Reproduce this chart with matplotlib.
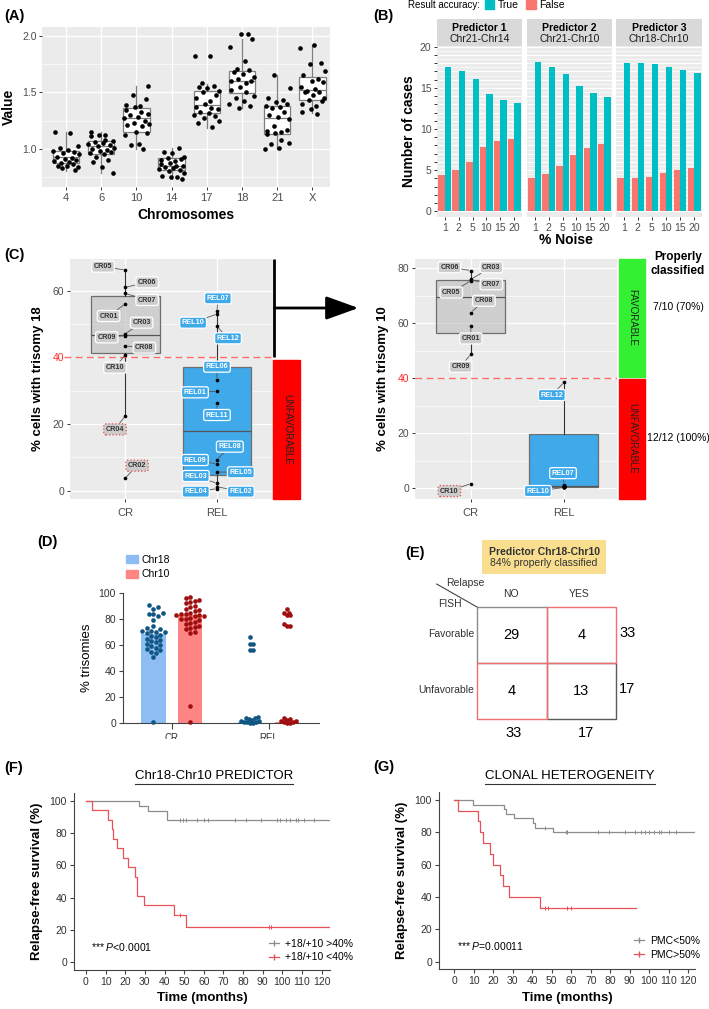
#!/usr/bin/env python3
"""
Figura multi-pannello: trisomie per cromosoma, predittori, classificazione e sopravvivenza.
Salva out.png (709x1009 px).
"""

import numpy as np
import matplotlib
matplotlib.use('Agg')
import matplotlib.pyplot as plt
from matplotlib.patches import Rectangle, Patch
from matplotlib.lines import Line2D

plt.rcParams['font.family'] = ['Liberation Sans', 'DejaVu Sans']
plt.rcParams['mathtext.fontset'] = 'custom'
plt.rcParams['mathtext.it'] = 'Liberation Sans:italic'
plt.rcParams['mathtext.rm'] = 'Liberation Sans'

W, H = 709, 1009

# ---------------------------------------------------------------- dati
# (A) valori per cromosoma
CHROMS = ['4', '6', '10', '14', '17', '18', '21', 'X']
A_VALUES = [
    [1.15, 1.14, 1.02, 1.01, 0.99, 0.98, 0.97, 0.96, 0.95, 0.93, 0.92,
     0.91, 0.90, 0.89, 0.88, 0.87, 0.86, 0.85, 0.85, 0.84, 0.83, 0.81],
    [1.15, 1.12, 1.12, 1.11, 1.08, 1.07, 1.06, 1.05, 1.04, 1.03, 1.02,
     1.01, 1.00, 0.99, 0.98, 0.97, 0.96, 0.95, 0.93, 0.90, 0.88, 0.84, 0.78],
    [1.56, 1.48, 1.44, 1.39, 1.38, 1.37, 1.34, 1.33, 1.31, 1.30, 1.28,
     1.27, 1.25, 1.23, 1.22, 1.21, 1.20, 1.15, 1.14, 1.12, 1.04, 1.03, 1.00],
    [1.01, 0.97, 0.96, 0.93, 0.92, 0.91, 0.90, 0.89, 0.87, 0.86, 0.85,
     0.85, 0.84, 0.83, 0.82, 0.81, 0.80, 0.78, 0.76, 0.75, 0.75, 0.73],
    [1.82, 1.82, 1.58, 1.56, 1.55, 1.54, 1.51, 1.50, 1.48, 1.45, 1.42,
     1.40, 1.37, 1.36, 1.35, 1.33, 1.32, 1.30, 1.29, 1.27, 1.25, 1.23, 1.19],
    [2.02, 2.02, 1.97, 1.90, 1.78, 1.71, 1.70, 1.68, 1.66, 1.64, 1.62,
     1.60, 1.60, 1.58, 1.55, 1.52, 1.50, 1.47, 1.45, 1.42, 1.40, 1.38, 1.36],
    [1.65, 1.54, 1.45, 1.43, 1.41, 1.40, 1.38, 1.37, 1.36, 1.33, 1.30, 1.28,
     1.26, 1.20, 1.17, 1.16, 1.15, 1.14, 1.13, 1.08, 1.05, 1.04, 1.01, 1.00],
    [1.92, 1.89, 1.76, 1.75, 1.69, 1.65, 1.62, 1.60, 1.59, 1.55, 1.53,
     1.51, 1.50, 1.50, 1.48, 1.45, 1.43, 1.42, 1.40, 1.38, 1.35, 1.33, 1.31],
]
A_Q1 = [0.87, 0.95, 1.15, 0.81, 1.32, 1.49, 1.13, 1.43]
A_MED = [0.93, 1.02, 1.27, 0.85, 1.39, 1.60, 1.27, 1.52]
A_Q3 = [0.98, 1.07, 1.36, 0.92, 1.51, 1.69, 1.38, 1.64]
A_LO = [0.80, 0.78, 1.00, 0.73, 1.18, 1.36, 1.00, 1.32]
A_HI = [1.15, 1.15, 1.56, 1.01, 1.57, 1.97, 1.65, 1.92]

# (B) rumore
NOISE = ['1', '2', '5', '10', '15', '20']
PRED_NAMES = ['Predictor 1', 'Predictor 2', 'Predictor 3']
PRED_PAIRS = ['Chr21-Chr14', 'Chr21-Chr10', 'Chr18-Chr10']
B_TRUE = [[17.6, 17.1, 16.1, 14.3, 13.5, 13.2],
          [18.1, 17.6, 16.7, 15.2, 14.4, 13.9],
          [18.0, 18.0, 17.9, 17.5, 17.2, 16.8]]
B_FALSE = [[4.4, 5.0, 6.0, 7.8, 8.6, 8.8],
           [4.0, 4.5, 5.5, 6.9, 7.7, 8.2],
           [4.0, 4.0, 4.2, 4.6, 5.0, 5.2]]

# (C) % cellule con trisomia 18 / 10
CR_IDS = ['CR01', 'CR02', 'CR03', 'CR04', 'CR05', 'CR06', 'CR07', 'CR08', 'CR09', 'CR10']
CR_T18 = [56.0, 3.7, 47.0, 22.4, 66.2, 61.0, 59.2, 43.4, 46.5, 40.7]
REL_IDS = ['REL01', 'REL02', 'REL03', 'REL04', 'REL05', 'REL06',
           'REL07', 'REL08', 'REL09', 'REL10', 'REL11', 'REL12']
REL_T18 = [29.8, 1.2, 2.2, 0.6, 5.6, 33.2, 53.8, 9.3, 8.0, 53.0, 26.4, 49.3]
C18_Q1 = [41.4, 4.7]
C18_MED = [46.7, 17.9]
C18_Q3 = [58.4, 37.2]
C18_LO = [22.4, 0.6]
C18_HI = [66.2, 53.8]

CR10_IDS = ['CR01', 'CR03', 'CR05', 'CR06', 'CR07', 'CR08', 'CR09', 'CR10']
CR_T10 = [59.2, 76.0, 75.5, 79.2, 75.8, 63.9, 48.8, 1.7]
REL_T10 = [0.5, 0.4, 0.6, 0.5, 0.7, 0.8, 1.3, 0.9, 0.6, 0.3, 0.5, 38.5]
C10_Q1 = [56.6, 0.6]
C10_MED = [69.7, 0.9]
C10_Q3 = [75.9, 19.8]
C10_LO = [48.8, 0.3]
C10_HI = [79.2, 38.5]
MISCLASSIFIED = {'CR02', 'CR04'}
MISCLASSIFIED_10 = {'CR10'}

# (D) % trisomie
D_GROUPS = ['CR', 'REL']
D_CR18 = [91, 89, 88, 85, 84, 84, 82, 79, 75, 73, 72, 71, 71, 70, 70, 69, 68,
          67, 66, 65, 64, 63, 62, 61, 60, 59, 58, 57, 56, 55, 54, 50.5, 0.5]
D_CR10 = [97, 96, 95, 94, 93, 92, 90, 89, 88, 87, 86, 85, 84, 84, 83, 83, 82,
          82, 81, 80, 80, 79, 78, 77, 76, 75, 74, 73, 72, 70, 69, 13.3, 1.0]
D_REL18 = [66, 61, 61, 56.5, 56.5, 4.5, 4.0, 3.5, 3.0, 2.4, 1.8, 1.3, 0.9,
           0.6, 0.4, 0.2, 0.1]
D_REL10 = [88, 85, 84.5, 83, 83, 76, 75, 75, 4.0, 3.2, 2.5, 1.8, 1.3, 0.9,
           0.6, 0.3, 0.1]
D_BAR18 = [68.7, 1.0]
D_BAR10 = [83.0, 1.0]

# (E) tabella di contingenza
E_ROWS = ['Favorable', 'Unfavorable']
E_COLS = ['NO', 'YES']
E_COUNTS = [[29, 4], [4, 13]]

# (F) Kaplan-Meier predittore
F_HI_T = [0, 27.2, 31.4, 41.5]
F_HI_S = [100, 97.0, 93.9, 87.9]
F_HI_CENS = [47.9, 49.2, 50.9, 56.3, 60.0, 62.3, 75.8, 81.4, 89.4, 97.4,
             98.8, 101.8, 103.9, 106.9, 107.8, 111.0, 116.1]
F_HI_END = 124.2
F_LO_T = [0, 2.9, 11.0, 13.1, 13.9, 15.6, 19.0, 21.6, 24.9, 25.9, 29.5, 44.8, 50.9]
F_LO_S = [100, 94.1, 88.2, 82.4, 76.5, 70.6, 64.7, 58.8, 52.9, 41.2, 35.3, 29.4, 22.1]
F_LO_CENS = [47.9, 93.3, 94.5]
F_LO_END = 124.2

# (G) Kaplan-Meier eterogeneità clonale
G_HI_T = [0, 9.9, 25.6, 26.8, 30.7, 40.6, 41.5, 50.9]
G_HI_S = [100, 97.1, 94.3, 91.4, 88.6, 85.7, 82.9, 80.0]
G_HI_CENS = [46.6, 57.4, 57.9, 73.6, 79.2, 87.3, 92.7, 95.5, 97.9, 99.6,
             102.3, 105.2, 106.1, 110.3, 113.7]
G_HI_END = 123.7
G_LO_T = [0, 2.0, 12.5, 13.3, 15.0, 18.4, 20.1, 23.5, 24.9, 28.3, 44.0]
G_LO_S = [100, 93.3, 86.7, 80.0, 73.3, 66.7, 60.0, 53.3, 46.7, 40.0, 33.3]
G_LO_CENS = [46.6, 48.3, 57.9, 59.9]
G_LO_END = 93.2

# ---------------------------------------------------------------- layout helpers
GG_BG = '#EBEBEB'
TICK_C = '#4D4D4D'
TEAL, SALMON = '#00BFC4', '#F8766D'
BLUE_BOX = '#3FA9EA'
KM_GRAY, KM_RED = '#8C8C8C', '#E8505A'

JITTER = [-0.30, 0.12, 0.33, -0.18, 0.05, -0.36, 0.24, -0.08, 0.36, -0.26,
          0.16, -0.02, 0.29, -0.33, 0.08, -0.14, 0.20, -0.22, 0.02, 0.34,
          -0.10, 0.27, -0.30, 0.10, -0.05]


def px_axes(fig, l, t, r, b):
    return fig.add_axes([l / W, 1 - b / H, (r - l) / W, (b - t) / H])


def px_text(fig, x, y, s, **kw):
    kw.setdefault('va', 'center')
    return fig.text(x / W, 1 - y / H, s, **kw)


def gg_style(ax):
    ax.set_facecolor(GG_BG)
    for s in ax.spines.values():
        s.set_visible(False)
    ax.tick_params(which='major', colors='#333333', labelcolor=TICK_C,
                   length=2.5, width=0.7, labelsize=7.5, pad=1.5)
    ax.tick_params(which='minor', length=0)
    ax.set_axisbelow(True)
    ax.grid(which='major', color='white', lw=0.9)
    ax.grid(which='minor', color='white', lw=0.45)


def plain_style(ax):
    for s in ['top', 'right']:
        ax.spines[s].set_visible(False)
    for s in ['left', 'bottom']:
        ax.spines[s].set_color('#444444')
        ax.spines[s].set_linewidth(0.8)
    ax.tick_params(colors='#444444', labelcolor='#333333', length=3,
                   width=0.8, labelsize=7.5, pad=2)


def swarm(values, x0, px_per_x, px_per_y, d=4.6):
    vals = np.asarray(values, float)
    ys = vals * px_per_y
    xs = np.zeros(len(vals))
    done = []
    for i in np.argsort(vals):
        for k in range(60):
            off = ((k + 1) // 2) * 0.5 * d * (1 if k % 2 else -1)
            if all((off - xs[j]) ** 2 + (ys[i] - ys[j]) ** 2 >= d * d for j in done):
                xs[i] = off
                break
        done.append(i)
    return x0 + xs / px_per_x


def box_stats(q1, med, q3, lo, hi):
    return [dict(q1=a, med=b, q3=c, whislo=d, whishi=e)
            for a, b, c, d, e in zip(q1, med, q3, lo, hi)]


def label_points(ax, ids, xs, ys, pos, red_set, fc, tc):
    for pid, x, y in zip(ids, xs, ys):
        if pid not in pos:
            continue
        red = pid in red_set
        ax.annotate(pid, xy=(x, y), xytext=pos[pid], fontsize=5.2,
                    fontweight='bold', color=tc, ha='center', va='center',
                    zorder=6, annotation_clip=False,
                    bbox=dict(boxstyle='round,pad=0.28', fc=fc,
                              ec='#E05555' if red else 'white',
                              ls=':' if red else '-', lw=0.9),
                    arrowprops=dict(arrowstyle='-', color='#555555', lw=0.6,
                                    shrinkA=0, shrinkB=1.5))


def km_panel(ax, curves):
    for t, s, end, cens, col in curves:
        ax.step(list(t) + [end], list(s) + [s[-1]], where='post',
                color=col, lw=0.9)
        idx = np.searchsorted(t, cens, side='right') - 1
        ax.plot(cens, np.asarray(s)[idx], ls='none', marker='|', ms=3.5,
                mew=0.7, color=col)


fig = plt.figure(figsize=(W / 100, H / 100), dpi=100)

# ---------------------------------------------------------------- (A)
axA = px_axes(fig, 42, 27, 330, 187)
gg_style(axA)
pos = np.arange(1, len(CHROMS) + 1)
axA.bxp(box_stats(A_Q1, A_MED, A_Q3, A_LO, A_HI), positions=pos, widths=0.75,
        showfliers=False, showcaps=False, patch_artist=True,
        boxprops=dict(facecolor='white', edgecolor='#7F7F7F', lw=0.9),
        medianprops=dict(color='#7F7F7F', lw=0.9),
        whiskerprops=dict(color='#7F7F7F', lw=0.9))
for i, vals in enumerate(A_VALUES):
    jit = np.roll(JITTER, 3 * i)[:len(vals)]
    axA.scatter(pos[i] + jit, vals, s=11, color='black', lw=0, zorder=4)
axA.set_xlim(0.32, 8.5)
axA.set_ylim(0.66, 2.08)
axA.set_xticks(pos)
axA.set_xticklabels(CHROMS)
axA.set_yticks([1.0, 1.5, 2.0])
axA.set_yticks([0.75, 1.25, 1.75], minor=True)
axA.tick_params(axis='x', labelsize=8)
axA.set_xlabel('Chromosomes', fontsize=10, fontweight='bold', labelpad=4)
axA.set_ylabel('Value', fontsize=10, fontweight='bold', labelpad=4)

# ---------------------------------------------------------------- (B)
facets = [(437, 522), (527, 612), (616, 702)]
xb = np.arange(1, len(NOISE) + 1)
for k, (l, r) in enumerate(facets):
    ax = px_axes(fig, l, 46, r, 217)
    gg_style(ax)
    ax.bar(xb - 0.225, B_FALSE[k], width=0.45, color=SALMON, zorder=2)
    ax.bar(xb + 0.225, B_TRUE[k], width=0.45, color=TEAL, zorder=2)
    ax.set_xlim(0.45, 6.55)
    ax.set_ylim(-0.7, 20.1)
    ax.set_xticks(xb)
    ax.set_xticklabels(NOISE)
    ax.tick_params(axis='x', labelsize=7.5)
    ax.set_yticks(np.arange(0, 21))
    ax.set_yticklabels([str(v) if v % 5 == 0 else '' for v in range(21)])
    ax.set_yticks(np.arange(0.5, 20.5, 1.0), minor=True)
    ax.grid(axis='x', visible=False)
    if k > 0:
        ax.tick_params(axis='y', length=0, labelleft=False)
    else:
        ax.set_ylabel('Number of cases', fontsize=10, fontweight='bold',
                      labelpad=3)
    strip = px_axes(fig, l, 19, r, 46)
    strip.set_facecolor('#D9D9D9')
    strip.set_xticks([])
    strip.set_yticks([])
    for s in strip.spines.values():
        s.set_visible(False)
    strip.text(0.5, 0.68, PRED_NAMES[k], transform=strip.transAxes,
               ha='center', va='center', fontsize=7.5, fontweight='bold')
    strip.text(0.5, 0.27, PRED_PAIRS[k], transform=strip.transAxes,
               ha='center', va='center', fontsize=7.5, color='#1A1A1A')
px_text(fig, 566, 240, '% Noise', ha='center', fontsize=10, fontweight='bold')
px_text(fig, 408, 5, 'Result accuracy:', fontsize=7)
fig.legend(handles=[Patch(color=TEAL), Patch(color=SALMON)],
           labels=['True', 'False'], ncol=2, loc='center left',
           bbox_to_anchor=(485 / W, 1 - 5 / H), frameon=False, fontsize=7.5,
           handlelength=0.9, handleheight=0.9, handletextpad=0.35,
           columnspacing=0.7, borderpad=0, borderaxespad=0)

# ---------------------------------------------------------------- (C) trisomia 18
LBL_C18 = {'CR05': (0.76, 67.2), 'CR06': (1.24, 62.5), 'CR07': (1.24, 57.2),
           'CR01': (0.82, 52.4), 'CR03': (1.18, 50.4), 'CR09': (0.80, 46.0),
           'CR08': (1.21, 42.9), 'CR10': (0.89, 36.9), 'CR04': (0.89, 18.4),
           'CR02': (1.13, 7.5),
           'REL07': (2.01, 57.7), 'REL10': (1.74, 50.4), 'REL12': (2.12, 45.7),
           'REL06': (2.0, 37.2), 'REL01': (1.76, 29.5), 'REL11': (2.0, 22.7),
           'REL08': (2.14, 13.2), 'REL09': (1.76, 9.2), 'REL05': (2.26, 5.5),
           'REL03': (1.77, 4.4), 'REL04': (1.77, -0.3), 'REL02': (2.26, -0.3)}
LBL_C10 = {'CR06': (0.77, 80.4), 'CR03': (1.22, 80.4), 'CR07': (1.22, 74.2),
           'CR05': (0.79, 71.2), 'CR08': (1.14, 68.2), 'CR01': (1.0, 54.5),
           'CR09': (0.89, 44.2), 'CR10': (0.77, -1.0),
           'REL12': (1.87, 33.9), 'REL07': (1.99, 5.5), 'REL10': (1.72, -1.0)}


def trisomy_panel(ax, stats, cr_ids, cr_vals, rel_vals, labels, red_set,
                  ylim, xlim, width):
    gg_style(ax)
    bp = ax.bxp(stats, positions=[1, 2], widths=width, showfliers=False,
                showcaps=False, patch_artist=True,
                boxprops=dict(edgecolor='#6E6E6E', lw=0.9),
                medianprops=dict(color='#555555', lw=0.9),
                whiskerprops=dict(color='#333333', lw=0.8))
    bp['boxes'][0].set_facecolor((0.72, 0.72, 0.72, 0.55))
    bp['boxes'][1].set_facecolor(BLUE_BOX)
    ax.scatter(np.ones(len(cr_vals)), cr_vals, s=7, color='black', lw=0,
               zorder=4)
    ax.scatter(np.full(len(rel_vals), 2.0), rel_vals, s=7, color='black',
               lw=0, zorder=4)
    label_points(ax, cr_ids, np.ones(len(cr_vals)), cr_vals, labels, red_set,
                 '#CCCCCC', '#333333')
    label_points(ax, REL_IDS, np.full(len(rel_vals), 2.0), rel_vals, labels,
                 set(), BLUE_BOX, 'white')
    ax.set_xlim(*xlim)
    ax.set_ylim(*ylim)
    ax.set_xticks([1, 2])
    ax.set_xticklabels(['CR', 'REL'], fontsize=8)
    ax.tick_params(axis='x', pad=4)
    ax.set_yticks(np.arange(0, ylim[1], 20))
    ax.set_yticks(np.arange(10, ylim[1], 20), minor=True)
    for t in ax.get_yticklabels():
        if t.get_text() == '40':
            t.set_color('#FF2A2A')


axC1 = px_axes(fig, 70, 259, 273, 499)
trisomy_panel(axC1, box_stats(C18_Q1, C18_MED, C18_Q3, C18_LO, C18_HI),
              CR_IDS, CR_T18, REL_T18, LBL_C18, MISCLASSIFIED,
              (-2.5, 69.5), (0.40, 2.61), 0.75)
axC1.plot([0.33, 2.61], [40, 40], ls=(0, (5, 3)), color='#FF6A6A', lw=1.0,
          clip_on=False, zorder=3)
axC1.add_patch(Rectangle((2.615, -2.5), 0.29, 41.7, color='#FF0000',
                         clip_on=False, zorder=1))
axC1.text(2.76, 18.5, 'UNFAVORABLE', rotation=-90, ha='center', va='center',
          fontsize=7, color='#222222')
axC1.plot([2.625, 2.625], [40, 69.5], color='black', lw=2, clip_on=False,
          solid_capstyle='butt')
axC1.annotate('', xy=(3.54, 54.8), xytext=(2.625, 54.8),
              annotation_clip=False,
              arrowprops=dict(arrowstyle='-|>,head_length=1.0,head_width=0.36',
                              color='black', lw=2, mutation_scale=20,
                              shrinkA=0, shrinkB=0))
axC1.set_ylabel('% cells with trisomy 18', fontsize=9.5, fontweight='bold',
                labelpad=6)

# ---------------------------------------------------------------- (C) trisomia 10
axC2 = px_axes(fig, 415, 259, 617, 499)
trisomy_panel(axC2, box_stats(C10_Q1, C10_MED, C10_Q3, C10_LO, C10_HI),
              CR10_IDS, CR_T10, REL_T10, LBL_C10, MISCLASSIFIED_10,
              (-3.9, 83.4), (0.40, 2.57), 0.74)
axC2.axhline(40, ls=(0, (5, 3)), color='#FF6A6A', lw=1.0, zorder=3)
axC2.add_patch(Rectangle((2.59, 40.6), 0.28, 42.8, color='#33F033',
                         clip_on=False, zorder=1))
axC2.add_patch(Rectangle((2.59, -3.9), 0.28, 43.8, color='#FF0000',
                         clip_on=False, zorder=1))
axC2.text(2.73, 62, 'FAVORABLE', rotation=-90, ha='center', va='center',
          fontsize=7, color='#222222')
axC2.text(2.73, 18, 'UNFAVORABLE', rotation=-90, ha='center', va='center',
          fontsize=7, color='#222222')
axC2.set_ylabel('% cells with trisomy 10', fontsize=9.5, fontweight='bold',
                labelpad=6)
px_text(fig, 678, 257, 'Properly', ha='center', fontsize=8.5,
        fontweight='bold')
px_text(fig, 678, 270.5, 'classified', ha='center', fontsize=8.5,
        fontweight='bold')
px_text(fig, 678, 307, '7/10 (70%)', ha='center', fontsize=7.5)
px_text(fig, 678, 438, '12/12 (100%)', ha='center', fontsize=7.5)

# ---------------------------------------------------------------- (D)
axD = px_axes(fig, 123, 593, 319, 723)
plain_style(axD)
xd = np.arange(len(D_GROUPS))
C18_BAR, C10_BAR = '#8DBDF3', '#FF8585'
C18_PT, C10_PT = '#0F5683', '#A00F0F'
axD.bar(xd - 0.19, D_BAR18, width=0.25, color=C18_BAR, zorder=1)
axD.bar(xd + 0.19, D_BAR10, width=0.25, color=C10_BAR, zorder=1)
pxx, pxy = 97.0, 1.3
for x0, vals, col, d in [(-0.19, D_CR18, C18_PT, 4.6),
                         (0.19, D_CR10, C10_PT, 4.6),
                         (0.81, D_REL18, C18_PT, 3.0),
                         (1.19, D_REL10, C10_PT, 3.0)]:
    axD.scatter(swarm(vals, x0, pxx, pxy, d), vals, s=11, color=col, lw=0,
                zorder=3, clip_on=False)
axD.set_xlim(-0.505, 1.52)
axD.set_ylim(0, 100)
axD.set_yticks(np.arange(0, 101, 20))
axD.set_xticks(xd)
axD.set_xticklabels(D_GROUPS)
axD.tick_params(axis='x', length=4, pad=3, labelsize=7)
axD.set_ylabel('% trisomies', fontsize=9.5, labelpad=4)
axD.legend(handles=[Patch(color=C18_BAR), Patch(color=C10_BAR)],
           labels=['Chr18', 'Chr10'], loc='center left',
           bbox_to_anchor=(-0.01, 1.2), frameon=False, fontsize=7.5,
           handlelength=1.1, handleheight=0.75, handletextpad=0.4,
           labelspacing=0.45, borderpad=0)
# il bordo inferiore del pannello originale taglia le etichette CR / REL
fig.add_artist(Rectangle((140 / W, 1 - 750 / H), 170 / W, 11.5 / H,
                         transform=fig.transFigure, fc='white', ec='none',
                         zorder=20))

# ---------------------------------------------------------------- (E)
axE = px_axes(fig, 477, 607, 616, 719)
axE.set_xlim(0, 2)
axE.set_ylim(2, 0)
axE.axis('off')
edge = [['#8C8C8C', '#F07070'], ['#F07070', '#5A5A5A']]
for order in (0, 1):
    for i in range(2):
        for j in range(2):
            red = edge[i][j] == '#F07070'
            if red != bool(order):
                continue
            axE.add_patch(Rectangle((j, i), 1, 1, fill=False, ec=edge[i][j],
                                    lw=1.0, clip_on=False))
counts = np.array(E_COUNTS)
for i in range(2):
    for j in range(2):
        axE.text(j + 0.5, i + 0.5, str(counts[i, j]), ha='center',
                 va='center', fontsize=10.5)
    axE.text(2.16, i + 0.47, str(counts[i].sum()), ha='center', va='center',
             fontsize=10.5, clip_on=False)
    axE.text(-0.04, i + 0.48, E_ROWS[i], ha='right', va='center',
             fontsize=7.5, color='#333333')
for j in range(2):
    axE.text([0.53, 1.57][j], 2.25, str(counts[:, j].sum()), ha='center',
             va='center', fontsize=10.5)
    axE.text([0.49, 1.47][j], -0.23, E_COLS[j], ha='center', va='center',
             fontsize=7.5, color='#333333')
axE.text(-0.17, -0.43, 'Relapse', ha='center', va='center', fontsize=7.5,
         color='#333333')
axE.text(-0.39, -0.05, 'FISH', ha='center', va='center', fontsize=7.5,
         color='#333333')
axE.plot([-0.58, 0], [-0.41, 0], color='#444444', lw=0.8, clip_on=False)
axE.add_patch(Rectangle((0.07, -1.2), 1.79, 0.61, fc='#F8DE8E', ec='none',
                        clip_on=False))
axE.text(0.965, -0.99, 'Predictor Chr18-Chr10', ha='center', va='center',
         fontsize=7.5, fontweight='bold', color='#333333')
axE.text(0.965, -0.78, '84% properly classified', ha='center', va='center',
         fontsize=7.5, color='#333333')

# ---------------------------------------------------------------- (F)
axF = px_axes(fig, 74, 793, 330, 970)
plain_style(axF)
km_panel(axF, [(F_HI_T, F_HI_S, F_HI_END, F_HI_CENS, KM_GRAY),
               (F_LO_T, F_LO_S, F_LO_END, F_LO_CENS, KM_RED)])
axF.set_xlim(-6.1, 124.3)
axF.set_ylim(-4.8, 104.8)
axF.set_xticks(np.arange(0, 121, 10))
axF.set_yticks(np.arange(0, 101, 20))
axF.spines['left'].set_bounds(-4.8, 104.8)
axF.set_xlabel('Time (months)', fontsize=9.5, fontweight='bold', labelpad=4)
axF.set_ylabel('Relapse-free survival (%)', fontsize=9.5, fontweight='bold',
               labelpad=5)
axF.text(0.065, 0.13, r'*** $\mathit{P}$<0.0001', transform=axF.transAxes,
         fontsize=7.5, va='center')
axF.legend(handles=[Line2D([], [], color=KM_GRAY, lw=0.9, marker='|', ms=4),
                    Line2D([], [], color=KM_RED, lw=0.9, marker='|', ms=4)],
           labels=['+18/+10 >40%', '+18/+10 <40%'], loc='center left',
           bbox_to_anchor=(0.74, 0.11), frameon=False, fontsize=7.5,
           handlelength=1.0, handletextpad=0.6, labelspacing=0.35,
           borderpad=0)
tF = px_text(fig, 214, 776, 'Chr18-Chr10 PREDICTOR', ha='center',
             fontsize=9.5)

# ---------------------------------------------------------------- (G)
axG = px_axes(fig, 439, 792, 695, 969)
plain_style(axG)
km_panel(axG, [(G_HI_T, G_HI_S, G_HI_END, G_HI_CENS, KM_GRAY),
               (G_LO_T, G_LO_S, G_LO_END, G_LO_CENS, KM_RED)])
axG.set_xlim(-7.7, 123.4)
axG.set_ylim(-4.5, 104.9)
axG.set_xticks(np.arange(0, 121, 10))
axG.set_yticks(np.arange(0, 101, 20))
axG.set_xlabel('Time (months)', fontsize=9.5, fontweight='bold', labelpad=4)
axG.set_ylabel('Relapse-free survival (%)', fontsize=9.5, fontweight='bold',
               labelpad=5)
axG.text(0.07, 0.13, r'*** $\mathit{P}$=0.00011', transform=axG.transAxes,
         fontsize=7.5, va='center')
axG.legend(handles=[Line2D([], [], color=KM_GRAY, lw=0.9, marker='|', ms=4),
                    Line2D([], [], color=KM_RED, lw=0.9, marker='|', ms=4)],
           labels=['PMC<50%', 'PMC>50%'], loc='center left',
           bbox_to_anchor=(0.74, 0.12), frameon=False, fontsize=7.5,
           handlelength=1.0, handletextpad=0.6, labelspacing=0.35,
           borderpad=0)
tG = px_text(fig, 570, 776, 'CLONAL HETEROGENEITY', ha='center',
             fontsize=9.5)

# ---------------------------------------------------------------- etichette pannelli
for lab, x, y in [('(A)', 4, 16), ('(B)', 373, 16), ('(C)', 4, 255),
                  ('(D)', 37, 542), ('(E)', 405, 553), ('(F)', 4, 768),
                  ('(G)', 373, 767)]:
    px_text(fig, x, y, lab, fontsize=10.5, fontweight='bold')

# sottolineature dei titoli KM
fig.canvas.draw()
renderer = fig.canvas.get_renderer()
for t in (tF, tG):
    bb = t.get_window_extent(renderer).transformed(fig.transFigure.inverted())
    fig.add_artist(Line2D([bb.x0, bb.x1], [bb.y0 - 1.5 / H] * 2,
                          transform=fig.transFigure, color='#333333', lw=0.8))

fig.savefig('out.png', dpi=100)
